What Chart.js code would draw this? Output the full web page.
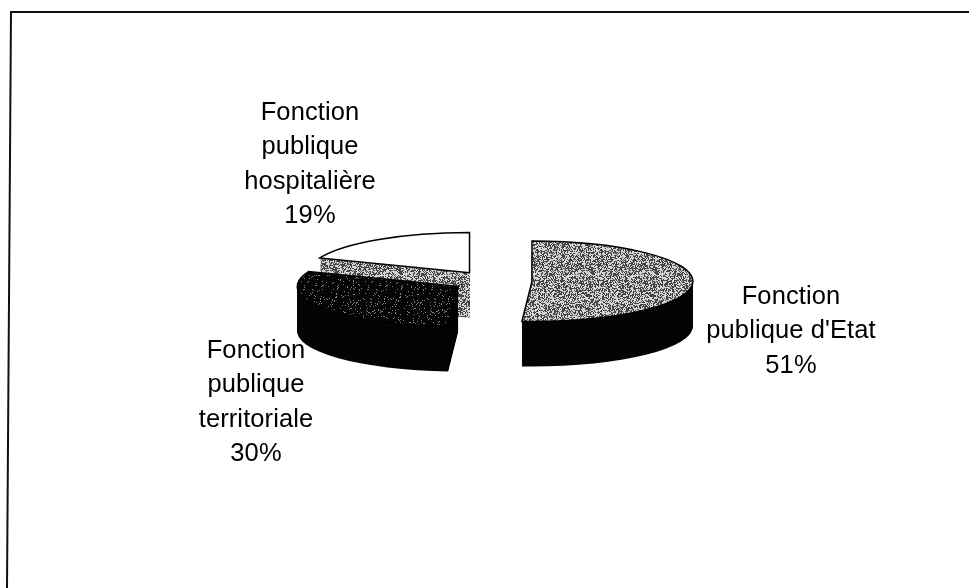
<!DOCTYPE html>
<html>
  <head>
    <meta charset="UTF-8" />
    <title>Fonction publique</title>
    <script src="https://cdn.jsdelivr.net/npm/chart.js"></script>
    <style>
      html, body { margin: 0; padding: 0; background: #fff; }
      #wrap { position: relative; width: 969px; height: 588px; overflow: hidden; }
    </style>
  </head>
  <body>
    <div id="wrap"><canvas id="chart" width="969" height="588"></canvas></div>
    <script>
      const categories = [
        ["Fonction", "publique d'Etat"],
        ["Fonction", "publique", "territoriale"],
        ["Fonction", "publique", "hospitalière"],
      ];
      const shares = [51, 30, 19];

      // pie geometry
      const pieRadius = 161;
      const squash = 0.25;
      const depth = 45;
      const explode = 40;
      const labelAnchors = [
        { x: 791, y: 304 },
        { x: 256, y: 358 },
        { x: 310, y: 120 },
      ];
      const lineHeight = 34.3;

      // dither texture only (scanned look), fixed seed so the tile never changes
      function makePattern(ctx, ink, paper, inkPercent) {
        const c = document.createElement("canvas");
        c.width = 64;
        c.height = 64;
        const p = c.getContext("2d");
        p.fillStyle = paper;
        p.fillRect(0, 0, 64, 64);
        p.fillStyle = ink;
        let s = 4711;
        for (let y = 0; y < 64; y++) {
          for (let x = 0; x < 64; x++) {
            s = (s * 1103515245 + 12345) & 0x7fffffff;
            if ((s >> 16) % 100 < inkPercent) p.fillRect(x, y, 1, 1);
          }
        }
        return ctx.createPattern(c, "repeat");
      }

      function slicePath(ctx, arc, cx, cy) {
        ctx.beginPath();
        ctx.moveTo(cx, cy);
        ctx.ellipse(cx, cy, arc.outerRadius, arc.outerRadius * squash, 0, arc.startAngle, arc.endAngle);
        ctx.closePath();
      }

      const pie3d = {
        id: "pie3d",
        beforeDatasetDraw(chart) {
          const ctx = chart.ctx;
          const grey = makePattern(ctx, "#444444", "#d4d4d4", 50);
          const dark = makePattern(ctx, "#050505", "#808080", 93);
          const faces = [grey, dark, "#ffffff"];
          const walls = ["#050505", "#050505", grey];
          const arcs = chart.getDatasetMeta(0).data;

          // back slices first: hospitaliere, territoriale, Etat
          [2, 1, 0].forEach((i) => {
            const arc = arcs[i];
            const mid = (arc.startAngle + arc.endAngle) / 2;
            const cx = arc.x + Math.cos(mid) * explode;
            const cy = arc.y + Math.sin(mid) * explode * squash;
            ctx.save();
            ctx.fillStyle = walls[i];
            for (let d = depth; d > 0; d--) {
              slicePath(ctx, arc, cx, cy + d);
              ctx.fill();
            }
            slicePath(ctx, arc, cx, cy);
            ctx.fillStyle = faces[i];
            ctx.fill();
            ctx.lineWidth = 1.5;
            ctx.strokeStyle = "#000";
            ctx.stroke();
            ctx.restore();
          });
          return false;
        },
        afterDraw(chart) {
          const ctx = chart.ctx;
          ctx.save();
          // frame has no right or bottom side in the picture, left side leans a bit
          ctx.strokeStyle = "#111";
          ctx.lineWidth = 2;
          ctx.beginPath();
          ctx.moveTo(969, 12);
          ctx.lineTo(11, 12);
          ctx.lineTo(7, 588);
          ctx.stroke();
          ctx.fillStyle = "#000";
          ctx.font = "25.5px 'Liberation Sans', Arial, sans-serif";
          ctx.letterSpacing = "0.1px";
          ctx.textAlign = "center";
          ctx.textBaseline = "alphabetic";
          categories.forEach((lines, i) => {
            const a = labelAnchors[i];
            [...lines, shares[i] + "%"].forEach((t, n) => {
              ctx.fillText(t, a.x, a.y + n * lineHeight);
            });
          });
          ctx.restore();
        },
      };

      new Chart(document.getElementById("chart"), {
        type: "pie",
        data: {
          labels: categories.map((l) => l.join(" ")),
          datasets: [{ data: shares, borderWidth: 0 }],
        },
        options: {
          responsive: false,
          animation: false,
          radius: pieRadius,
          layout: { padding: { left: 15, bottom: 26 } },
          plugins: { legend: { display: false }, tooltip: { enabled: false } },
        },
        plugins: [pie3d],
      });
    </script>
  </body>
</html>
